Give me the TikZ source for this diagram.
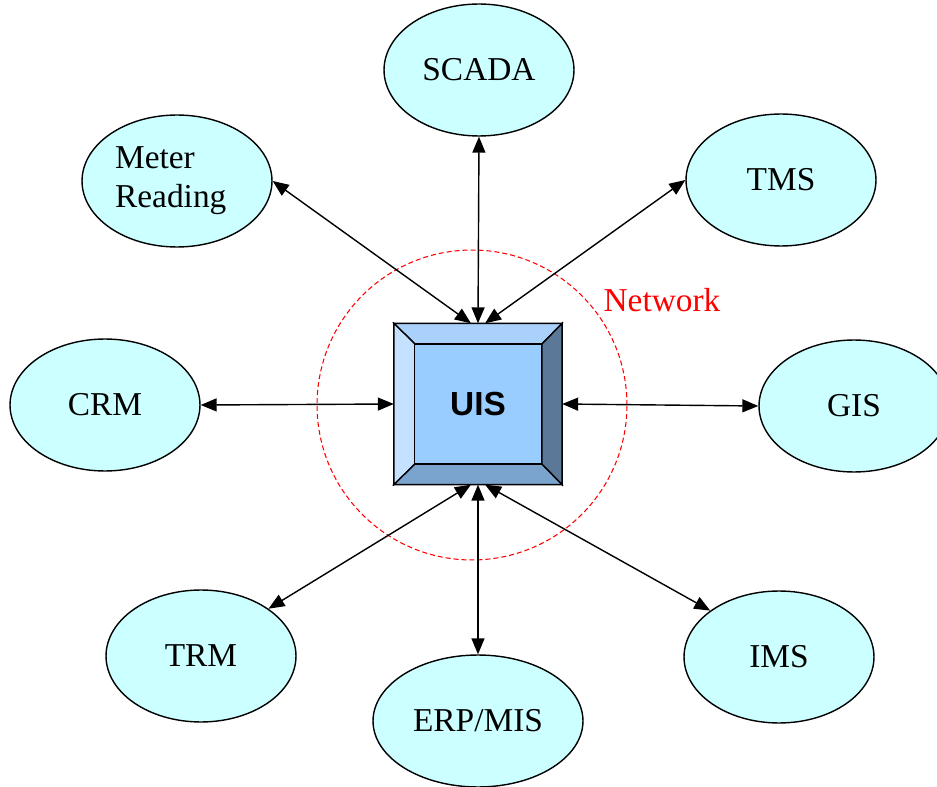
\documentclass[tikz,border=0pt]{standalone}
\usepackage{fontspec}
\setmainfont{Liberation Serif}
\setsansfont{Liberation Sans}
\usepackage{xcolor}
\usetikzlibrary{positioning,arrows.meta,shapes}

\definecolor{sysfill}{HTML}{CCFFFF}
\definecolor{bevtop}{HTML}{A9D1FB}
\definecolor{bevleft}{HTML}{C4E2FF}
\definecolor{bevface}{HTML}{99CCFF}
\definecolor{bevbot}{HTML}{7AA3CE}
\definecolor{bevright}{HTML}{5B7898}

\begin{document}
\begin{tikzpicture}[x=0.02cm,y=-0.02cm,
	sys/.style={ellipse,draw,thick,fill=sysfill,inner sep=0pt,minimum width=3.8cm,minimum height=2.64cm,font=\fontsize{19}{22}\selectfont},
	link/.style={thick,{Triangle[length=3.2mm,width=2.6mm]}-{Triangle[length=3.2mm,width=2.6mm]}},
	netring/.style={red,dash pattern=on 1mm off 0.6mm,line width=0.6pt}]
		
		\useasboundingbox (0,0) rectangle (937,787);
		
		% network ring
		\draw[netring] (472,405) circle[radius=3.1cm];
		\node[red,font=\fontsize{19}{22}\selectfont] (net) at (662,300) {Network};
		
		% systems
		\node[sys] (scada) at (479,70) {SCADA};
		\node[sys,align=left] (meter) at (177,181) {Meter\\Reading\hspace*{0.25cm}};
		\node[sys] (tms) at (781,180) {TMS};
		\node[sys] (crm) at (105,405) {CRM};
		\node[sys] (gis) at (854,406) {GIS};
		\node[sys] (trm) at (201,656) {TRM};
		\node[sys,minimum width=4.2cm] (erp) at (478,721) {ERP/MIS};
		\node[sys] (ims) at (779,657) {IMS};
		
		% UIS box
		\node[draw,thick,fill=bevface,minimum width=3.34cm,minimum height=3.2cm] (uis) at (478,404) {};
		\draw[thick,fill=bevtop] (uis.north west) -- (uis.north east) -- (542,344) -- (415,344) -- cycle;
		\draw[thick,fill=bevleft] (uis.north west) -- (415,344) -- (415,464) -- (uis.south west) -- cycle;
		\draw[thick,fill=bevbot] (uis.south west) -- (415,464) -- (542,464) -- (uis.south east) -- cycle;
		\draw[thick,fill=bevright] (uis.south east) -- (542,464) -- (542,344) -- (uis.north east) -- cycle;
		\node[draw,thick,fill=bevface,minimum width=2.54cm,minimum height=2.4cm,font=\sffamily\bfseries\fontsize{19}{22}\selectfont] (uisin) at (uis) {UIS};
		
		% links
		\draw[link] (scada.south) -- (uis.90);
		\draw[link] (meter.east) -- (uis.95);
		\draw[link] (tms.west) -- (uis.85);
		\draw[link] (crm.east) -- (uis.west);
		\draw[link] (gis.west) -- (uis.east);
		\draw[link] (trm.35) -- (uis.265);
		\draw[link] (erp.north) -- (uis.270);
		\draw[link] (ims.146) -- (uis.275);
	\end{tikzpicture}
\end{document}
